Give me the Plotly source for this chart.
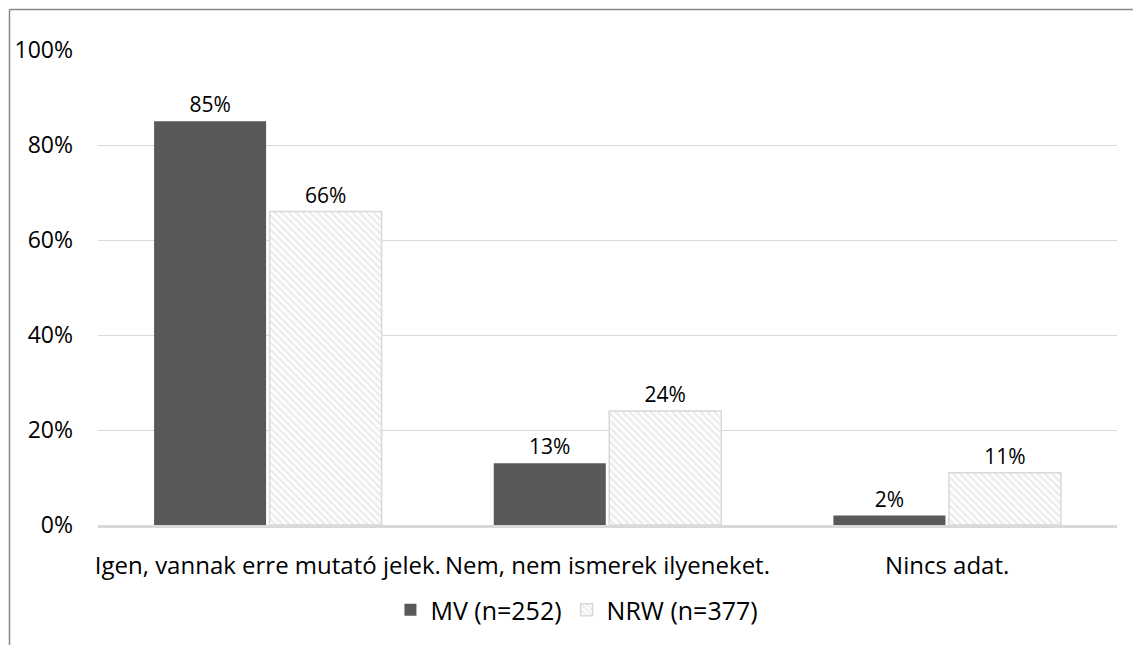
import plotly.graph_objects as go

categories = ["Igen, vannak erre mutató jelek.", "Nem, nem ismerek ilyeneket.", "Nincs adat."]
mv_values = [0.85, 0.13, 0.02]
nrw_values = [0.66, 0.24, 0.11]
series_names = ["MV (n=252)", "NRW (n=377)"]
y_ticks = [0, 0.2, 0.4, 0.6, 0.8, 1.0]
y_tick_labels = ["0%", "20%", "40%", "60%", "80%", "100%"]

FONT = "Open Sans"
OFF = 8  # default page body margin
W, H = 1141 - OFF, 645 - OFF
# plot area in page pixels: x 98..1117, y 50..525
L, T = 98 - OFF, 50 - OFF
R = OFF + W - 1117
B = OFF + H - 525

fig = go.Figure()
fig.add_trace(go.Bar(
    x=categories, y=mv_values, name=series_names[0],
    marker=dict(color="#595959", line=dict(color="#595959", width=0)),
    text=[f"{round(v*100)}%" for v in mv_values], textposition="outside",
    textfont=dict(family=FONT, size=21, color="#000000"), cliponaxis=False,
))
fig.add_trace(go.Bar(
    x=categories, y=nrw_values, name=series_names[1],
    marker=dict(color="#ffffff", line=dict(color="#d9d9d9", width=1.5),
                pattern=dict(shape="\\", fgcolor="#d9d9d9", bgcolor="#ffffff",
                             size=5, solidity=0.5, fillmode="overlay")),
    text=[f"{round(v*100)}%" for v in nrw_values], textposition="outside",
    textfont=dict(family=FONT, size=21, color="#000000"), cliponaxis=False,
))

pw = W - L - R
ph = H - T - B
bx0 = (1.5 - L) / pw
bx1 = (W - L) / pw
by1 = (H - B - 1.5) / ph
by0 = -(B) / ph

fig.update_layout(
    width=W, height=H,
    margin=dict(l=L, r=R, t=T, b=B, autoexpand=False),
    paper_bgcolor="white", plot_bgcolor="white",
    barmode="group", bargap=0.32, bargroupgap=0.03,
    font=dict(family=FONT, size=23, color="#000000"),
    showlegend=True,
    legend=dict(orientation="h", x=0.47, xanchor="center", y=-0.179, yanchor="middle",
                font=dict(family=FONT, size=25, color="#000000"),
                itemwidth=30, traceorder="normal"),
    shapes=[
        dict(type="line", xref="paper", yref="paper", x0=bx0, x1=bx0, y0=by0, y1=by1,
             line=dict(color="#888888", width=1.5)),
        dict(type="line", xref="paper", yref="paper", x0=bx0, x1=bx1, y0=by1, y1=by1,
             line=dict(color="#888888", width=1.5)),
    ],
)
fig.update_yaxes(range=[0, 1], tickvals=y_ticks, ticktext=y_tick_labels,
                 showgrid=True, gridcolor="#d9d9d9", gridwidth=1,
                 zeroline=False, showline=False, ticks="",
                 ticklabelstandoff=24,
                 tickfont=dict(family=FONT, size=23, color="#000000"))
fig.update_xaxes(showline=True, linecolor="#d9d9d9", linewidth=2.5, ticks="",
                 ticklabelstandoff=17,
                 tickfont=dict(family=FONT, size=24, color="#000000"))

fig.write_html("out.html")
